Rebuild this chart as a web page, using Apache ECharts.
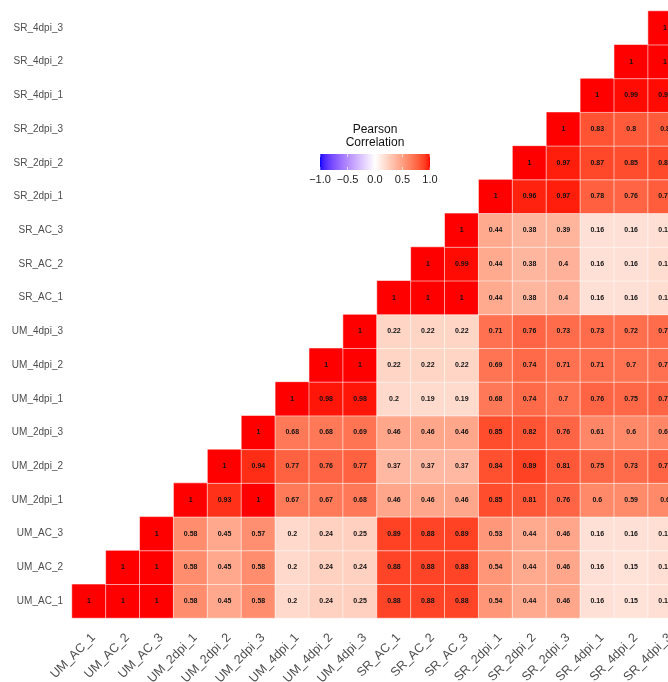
<!DOCTYPE html>
<html>
<head>
<meta charset="utf-8">
<script src="https://cdn.jsdelivr.net/npm/echarts@6/dist/echarts.min.js"></script>
<style>html,body{margin:0;padding:0;background:#fff}#c{width:668px;height:682px}</style>
</head>
<body>
<div id="c"></div>
<script>
const categories = ["UM_AC_1","UM_AC_2","UM_AC_3","UM_2dpi_1","UM_2dpi_2","UM_2dpi_3","UM_4dpi_1","UM_4dpi_2","UM_4dpi_3","SR_AC_1","SR_AC_2","SR_AC_3","SR_2dpi_1","SR_2dpi_2","SR_2dpi_3","SR_4dpi_1","SR_4dpi_2","SR_4dpi_3"];
// each row lists values from its own diagonal cell to the right end
const row_UM_AC_1   = [1,1,1,0.58,0.45,0.58,0.2,0.24,0.25,0.88,0.88,0.88,0.54,0.44,0.46,0.16,0.15,0.17];
const row_UM_AC_2   = [1,1,0.58,0.45,0.58,0.2,0.24,0.24,0.88,0.88,0.88,0.54,0.44,0.46,0.16,0.15,0.17];
const row_UM_AC_3   = [1,0.58,0.45,0.57,0.2,0.24,0.25,0.89,0.88,0.89,0.53,0.44,0.46,0.16,0.16,0.17];
const row_UM_2dpi_1 = [1,0.93,1,0.67,0.67,0.68,0.46,0.46,0.46,0.85,0.81,0.76,0.6,0.59,0.6];
const row_UM_2dpi_2 = [1,0.94,0.77,0.76,0.77,0.37,0.37,0.37,0.84,0.89,0.81,0.75,0.73,0.76];
const row_UM_2dpi_3 = [1,0.68,0.68,0.69,0.46,0.46,0.46,0.85,0.82,0.76,0.61,0.6,0.61];
const row_UM_4dpi_1 = [1,0.98,0.98,0.2,0.19,0.19,0.68,0.74,0.7,0.76,0.75,0.76];
const row_UM_4dpi_2 = [1,1,0.22,0.22,0.22,0.69,0.74,0.71,0.71,0.7,0.71];
const row_UM_4dpi_3 = [1,0.22,0.22,0.22,0.71,0.76,0.73,0.73,0.72,0.73];
const row_SR_AC_1   = [1,1,1,0.44,0.38,0.4,0.16,0.16,0.18];
const row_SR_AC_2   = [1,0.99,0.44,0.38,0.4,0.16,0.16,0.18];
const row_SR_AC_3   = [1,0.44,0.38,0.39,0.16,0.16,0.17];
const row_SR_2dpi_1 = [1,0.96,0.97,0.78,0.76,0.79];
const row_SR_2dpi_2 = [1,0.97,0.87,0.85,0.86];
const row_SR_2dpi_3 = [1,0.83,0.8,0.8];
const row_SR_4dpi_1 = [1,0.99,0.99];
const row_SR_4dpi_2 = [1,1];
const row_SR_4dpi_3 = [1];
const legendTicks = [-1.0,-0.5,0.0,0.5,1.0];
const legendTickLabels = ["\u22121.0","\u22120.5","0.0","0.5","1.0"];

const rows = [row_UM_AC_1,row_UM_AC_2,row_UM_AC_3,row_UM_2dpi_1,row_UM_2dpi_2,row_UM_2dpi_3,row_UM_4dpi_1,row_UM_4dpi_2,row_UM_4dpi_3,row_SR_AC_1,row_SR_AC_2,row_SR_AC_3,row_SR_2dpi_1,row_SR_2dpi_2,row_SR_2dpi_3,row_SR_4dpi_1,row_SR_4dpi_2,row_SR_4dpi_3];
const data = [];
rows.forEach((r, i) => r.forEach((v, k) => data.push([i + k, i, v])));

// Lab interpolation (like ggplot2 gradient2)
function toLin(c){c/=255;return c<=0.04045?c/12.92:Math.pow((c+0.055)/1.055,2.4);}
function fromLin(c){c=c<=0.0031308?12.92*c:1.055*Math.pow(c,1/2.4)-0.055;return Math.round(Math.max(0,Math.min(1,c))*255);}
function rgb2lab(r,g,b){r=toLin(r);g=toLin(g);b=toLin(b);
  let X=(0.4124*r+0.3576*g+0.1805*b)/0.95047,Y=(0.2126*r+0.7152*g+0.0722*b),Z=(0.0193*r+0.1192*g+0.9505*b)/1.08883;
  const f=t=>t>0.008856?Math.cbrt(t):7.787*t+16/116;
  const fx=f(X),fy=f(Y),fz=f(Z);return [116*fy-16,500*(fx-fy),200*(fy-fz)];}
function lab2rgb(L,a,b){const fy=(L+16)/116,fx=fy+a/500,fz=fy-b/200;
  const fi=t=>{const t3=t*t*t;return t3>0.008856?t3:(t-16/116)/7.787;};
  const X=fi(fx)*0.95047,Y=fi(fy),Z=fi(fz)*1.08883;
  const r=3.2406*X-1.5372*Y-0.4986*Z,g=-0.9689*X+1.8758*Y+0.0415*Z,bb=0.0557*X-0.2040*Y+1.0570*Z;
  return 'rgb('+fromLin(r)+','+fromLin(g)+','+fromLin(bb)+')';}
const labB=rgb2lab(0,0,255),labW=rgb2lab(255,255,255),labR=rgb2lab(255,0,0);
function colorAt(v){const a=v<0?labB:labR;const t=Math.abs(v);
  return lab2rgb(labW[0]+(a[0]-labW[0])*t,labW[1]+(a[1]-labW[1])*t,labW[2]+(a[2]-labW[2])*t);}
const N=81;const stops=[];const gradStops=[];
for(let i=0;i<N;i++){const v=-1+2*i/(N-1);const c=colorAt(v);stops.push(c);gradStops.push({offset:i/(N-1),color:c});}

const FONT='"Liberation Sans", Arial, sans-serif';
const barX=320, barW=110, barY=154, barH=16;
const graphics=[
  {type:'text',style:{text:'Pearson',x:375,y:124,textAlign:'center',font:'12px '+FONT,fill:'#111'}},
  {type:'text',style:{text:'Correlation',x:375,y:137,textAlign:'center',font:'12px '+FONT,fill:'#111'}},
  {type:'rect',shape:{x:barX,y:barY,width:barW,height:barH},style:{fill:new echarts.graphic.LinearGradient(0,0,1,0,gradStops)}}
];
legendTicks.forEach((t,i)=>{
  const x=barX+(t+1)/2*barW;
  graphics.push({type:'line',shape:{x1:x,y1:barY,x2:x,y2:barY+3},style:{stroke:'rgba(255,255,255,0.8)',lineWidth:0.8}});
  graphics.push({type:'line',shape:{x1:x,y1:barY+barH-3,x2:x,y2:barY+barH},style:{stroke:'rgba(255,255,255,0.8)',lineWidth:0.8}});
  graphics.push({type:'text',style:{text:legendTickLabels[i],x:x,y:174,textAlign:'center',font:'11px '+FONT,fill:'#222'}});
});

const chart=echarts.init(document.getElementById('c'),null,{renderer:'canvas'});
chart.setOption({
  animation:false,
  grid:{left:72,top:11,width:610,height:607,containLabel:false,outerBoundsMode:'none'},
  xAxis:{type:'category',data:categories,axisLine:{show:false},axisTick:{show:false},splitLine:{show:false},
    axisLabel:{rotate:45,interval:0,margin:13,verticalAlign:'top',color:'#4d4d4d',fontSize:12.5,fontFamily:FONT}},
  yAxis:{type:'category',data:categories,axisLine:{show:false},axisTick:{show:false},splitLine:{show:false},
    axisLabel:{interval:0,margin:9,padding:[3,0,0,0],color:'#4d4d4d',fontSize:10,fontFamily:FONT}},
  visualMap:{show:false,type:'continuous',min:-1,max:1,dimension:2,inRange:{color:stops}},
  series:[{type:'heatmap',data:data,
    itemStyle:{borderColor:'rgba(255,255,255,0.55)',borderWidth:1},
    label:{show:true,formatter:p=>String(p.value[2]),color:'#111',fontSize:7,fontWeight:'bold',fontFamily:FONT},
    emphasis:{disabled:true}}],
  graphic:graphics
});
</script>
</body>
</html>
